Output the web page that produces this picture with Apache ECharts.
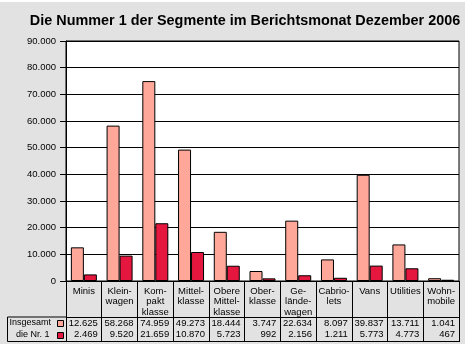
<!DOCTYPE html>
<html><head><meta charset="utf-8">
<script src="https://cdn.jsdelivr.net/npm/echarts@6/dist/echarts.min.js"></script>
<style>html,body{margin:0;padding:0;background:#fff;}#c{width:467px;height:348px;}</style>
</head><body><div id="c"></div>
<script>
const title = 'Die Nummer 1 der Segmente im Berichtsmonat Dezember 2006';
const categories = ['Minis','Klein-\nwagen','Kom-\npakt\nklasse','Mittel-\nklasse','Obere\nMittel-\nklasse','Ober-\nklasse','Ge-\nlände-\nwagen','Cabrio-\nlets','Vans','Utilities','Wohn-\nmobile'];
const seriesNames = ['Insgesamt','die Nr. 1'];
const insgesamt = [12625,58268,74959,49273,18444,3747,22634,8097,39837,13711,1041];
const nr1 = [2469,9520,21659,10870,5723,992,2156,1211,5773,4773,467];
const yMin = 0, yMax = 90000, yStep = 10000;

const FONT = "'Liberation Sans', Arial, sans-serif";
const C_LIGHT = '#ffa89a', C_DARK = '#e5173f';
const fmt = v => String(v).replace(/\B(?=(\d{3})+(?!\d))/g, '.');

const G = {left:66, top:41, width:393, height:240};
const chart = echarts.init(document.getElementById('c'), null, {renderer:'canvas'});
const option = {
  animation:false,
  backgroundColor:'transparent',
  title:{text:title, left:240, textAlign:'center', top:9,
    textStyle:{fontFamily:FONT, fontSize:14.4, fontWeight:'bold', color:'#000'}},
  grid:{left:G.left, top:G.top, width:G.width, height:G.height, show:true,
    backgroundColor:'#fff', borderColor:'#000', borderWidth:1},
  xAxis:{type:'category', data:categories,
    axisLine:{lineStyle:{color:'#000', width:1}},
    axisTick:{show:true, length:61, lineStyle:{color:'#000'}},
    axisLabel:{fontFamily:FONT, fontSize:9.5, color:'#000', lineHeight:10.5, margin:5, interval:0}},
  yAxis:{type:'value', min:yMin, max:yMax, interval:yStep,
    axisLine:{show:true, lineStyle:{color:'#000'}},
    axisTick:{show:true, length:6, lineStyle:{color:'#000'}},
    splitLine:{lineStyle:{color:'#000', width:1}},
    axisLabel:{fontFamily:FONT, fontSize:9.5, color:'#000', margin:10, formatter:v=>fmt(v)}},
  series:[
    {name:seriesNames[0], type:'bar', data:insgesamt, barWidth:13, barGap:'0%',
      itemStyle:{color:C_LIGHT, borderColor:'#000', borderWidth:1}},
    {name:seriesNames[1], type:'bar', data:nr1, barWidth:13, barGap:'0%',
      itemStyle:{color:C_DARK, borderColor:'#000', borderWidth:1}}
  ]
};
chart.setOption(option);

const cellW = G.width / categories.length;
const rowY = [323, 334.5];
const rows = [insgesamt, nr1];
const graphics = [
  {type:'rect', z:-10, silent:true, shape:{x:0,y:2,width:465,height:342}, style:{fill:'#e2e2e2'}},
  {type:'polyline', z:10, shape:{points:[[G.left,317],[7.5,317],[7.5,341.5],[G.left,341.5]]}, style:{stroke:'#000', fill:null, lineWidth:1}},
  {type:'line', z:10, shape:{x1:G.left,y1:317.5,x2:G.left+G.width,y2:317.5}, style:{stroke:'#000', lineWidth:1}},
  {type:'line', z:10, shape:{x1:G.left,y1:341.5,x2:G.left+G.width,y2:341.5}, style:{stroke:'#000', lineWidth:1}},
  {type:'text', z:10, style:{text:seriesNames[0], x:9.5, y:rowY[0], verticalAlign:'middle', font:'9px '+FONT, fill:'#000'}},
  {type:'text', z:10, style:{text:seriesNames[1], x:16, y:rowY[1], verticalAlign:'middle', font:'9px '+FONT, fill:'#000'}},
  {type:'rect', z:10, shape:{x:57.5,y:320.5,width:6,height:6}, style:{fill:C_LIGHT, stroke:'#000', lineWidth:1}},
  {type:'rect', z:10, shape:{x:57.5,y:332.5,width:6,height:6}, style:{fill:C_DARK, stroke:'#000', lineWidth:1}}
];
rows.forEach((arr, r) => {
  arr.forEach((v, i) => {
    const cx = chart.convertToPixel({xAxisIndex:0}, i);
    graphics.push({type:'text', z:10, style:{text:fmt(v), x:cx + cellW/2 - 4, y:rowY[r],
      align:'right', verticalAlign:'middle', font:'9.5px '+FONT, fill:'#000'}});
  });
});
chart.setOption({graphic:graphics});
</script></body></html>
